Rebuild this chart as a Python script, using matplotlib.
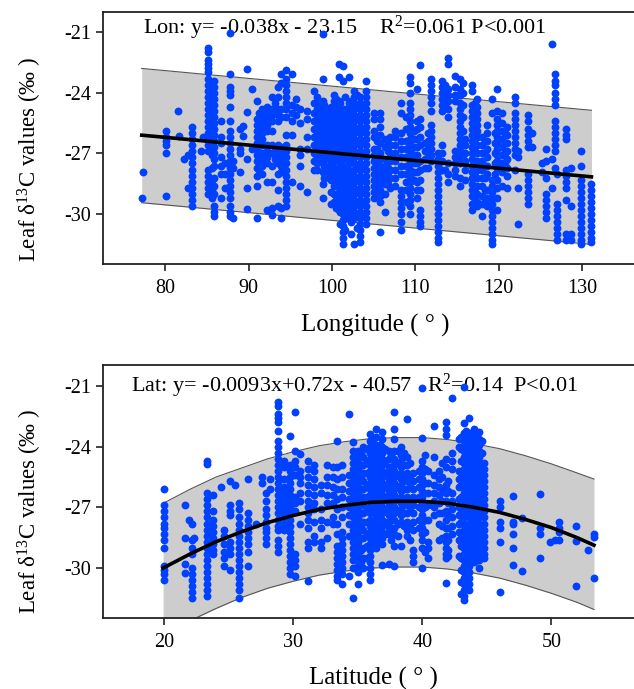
import matplotlib
matplotlib.use("Agg")
import matplotlib.pyplot as plt

plt.rcParams['font.family'] = ['Liberation Serif', 'DejaVu Serif']
plt.rcParams['mathtext.fontset'] = 'custom'
plt.rcParams['mathtext.rm'] = 'Liberation Serif'
plt.rcParams['mathtext.default'] = 'regular'

# fit line and band, longitude
lon_fit_x = [77.2, 131.1]
lon_fit_y = [-26.1, -28.16]
lon_up_y = [-22.8, -24.87]
lon_lo_y = [-29.44, -31.5]

# fit line and band, latitude
lat_fit_x = [19.9, 22, 24, 26, 28, 30, 32, 34, 36, 38, 40, 42, 44, 46, 48, 50, 52, 53.3]
lat_fit_y = [-30.0, -29.3, -28.7, -28.2, -27.75, -27.4, -27.1, -26.9, -26.75, -26.7, -26.7, -26.8, -27.0, -27.25, -27.6, -28.0, -28.5, -28.87]
lat_up_y = [-26.8, -26.1, -25.5, -25.05, -24.6, -24.25, -23.95, -23.75, -23.6, -23.55, -23.55, -23.65, -23.85, -24.1, -24.45, -24.85, -25.3, -25.6]
lat_lo_y = [-33.3, -32.6, -32.0, -31.45, -31.0, -30.65, -30.35, -30.15, -30.0, -29.95, -29.95, -30.05, -30.25, -30.5, -30.85, -31.25, -31.7, -32.05]

# longitude columns: lon_x[i] goes with all values in lon_y[i]
lon_x = [77.4, 77.2, 80.1, 81.5, 81.7, 82.3, 82.7, 83.2, 84.3, 84.6,
         85.2, 85.9, 86.7, 87.2, 87.8, 88.2, 89.0, 89.3, 89.8, 90.4,
         91.0, 91.6, 92.2, 92.8, 93.5, 93.9, 94.5, 95.2, 95.7, 96.2,
         97.0, 97.8, 98.2, 98.9, 99.6, 100.2, 100.8, 101.3, 102.0, 102.7,
         103.4, 104.1, 105.0, 105.7, 106.3, 107.0, 107.6, 108.3, 108.9, 109.3,
         110.2, 110.6, 111.2, 111.9, 112.7, 113.2, 113.9, 114.7, 115.3, 116.0,
         116.8, 117.4, 118.0, 118.6, 119.2, 119.8, 120.4, 121.0, 121.9, 122.3,
         123.5, 124.0, 125.2, 125.7, 126.4, 126.7, 127.0, 128.0, 128.6, 129.8,
         131.1]
lon_y = [
    [-27.9], [-29.2], [-25.9, -26.2, -26.4, -26.6, -27.0, -29.1], [-24.9], [-26.15], [-27.3], [-27.1, -28.7],
    [-25.7, -26.0, -26.3, -26.6, -26.9, -27.2, -27.5, -27.8, -28.1, -28.4, -28.7, -29.0, -29.3, -29.6], [-26.9], [-26.2],
    [-21.8, -22.0, -22.4, -22.6, -22.8, -23.0, -23.3, -23.6, -23.9, -24.2, -24.5, -24.8, -25.1, -25.4, -25.7, -26.0, -26.3, -26.6, -26.9, -27.8, -28.1, -28.4, -28.7, -29.0],
    [-23.4, -23.7, -24.0, -24.3, -24.6, -24.9, -25.2, -25.5, -25.8, -26.1, -26.4, -26.7, -27.0, -27.3, -27.6, -28.2, -28.6, -29.0, -29.6, -29.9, -30.1],
    [-25.4, -26.2, -26.5, -27.2, -27.6, -28.0, -29.2], [-27.5, -28.0, -28.7],
    [-21.05, -23.1, -23.7, -23.9, -24.1, -24.7, -25.4, -25.9, -26.2, -26.5, -26.8, -27.1, -27.4, -27.7, -28.0, -28.3, -28.6, -28.9, -29.2, -29.6, -29.9, -30.1],
    [-27.4, -27.7, -30.2], [-25.8, -26.8, -27.0, -27.9], [-25.65, -26.15], [-22.85, -24.95, -27.3, -28.7, -29.75], [-23.8, -26.8],
    [-24.4, -25.3, -25.6, -25.9, -26.2, -26.5, -26.8, -27.1, -27.4, -27.7, -28.1, -28.6, -30.2],
    [-24.8, -25.1, -25.4, -25.7, -26.0, -26.3, -26.6, -27.0, -27.3, -27.6, -28.0],
    [-24.7, -25.0, -25.3, -25.6, -25.9, -26.6, -26.9, -27.2, -27.5, -28.4, -29.8],
    [-24.2, -24.8, -25.1, -25.4, -25.9, -26.6, -27.0, -27.6, -28.4, -29.7, -30.05],
    [-23.7, -24.2, -24.8, -25.1, -25.4, -26.6, -26.9, -27.2, -27.5, -28.0, -28.8, -29.6],
    [-23.1, -23.5, -24.8, -25.2, -26.7, -27.0, -27.3, -27.6, -27.9, -29.7, -30.2],
    [-22.9, -23.3, -23.6, -23.9, -24.2, -24.5, -24.8, -25.2, -26.1, -26.6, -26.9, -27.2, -27.5, -27.8, -28.1, -28.4, -28.7, -29.0, -29.3, -29.6],
    [-23.1, -24.6, -25.0, -25.4, -26.1, -28.4], [-24.3, -24.7, -25.1], [-24.8, -25.5, -26.8, -27.1, -27.6, -28.6],
    [-24.9, -25.3, -26.2, -26.8, -28.9], [-23.9, -24.5, -25.0, -25.4, -25.8, -26.2, -26.6, -27.0, -27.4, -27.8],
    [-24.2, -24.5, -24.8, -25.1, -25.4, -25.7, -26.0, -26.3, -26.6, -26.9, -27.2, -27.5, -27.8],
    [-21.1, -23.3, -24.4, -24.7, -25.0, -25.3, -25.6, -25.9, -26.2, -26.5, -26.8, -27.1, -27.4, -27.9, -28.5, -29.2],
    [-24.9, -25.2, -25.5, -25.8, -26.1, -26.4, -26.7, -27.0, -27.3, -27.6, -27.9, -28.2],
    [-24.1, -24.4, -24.7, -25.0, -25.3, -25.6, -25.9, -26.2, -26.5, -26.8, -27.1, -27.4, -27.7, -28.0, -28.3, -28.6, -29.0, -29.4],
    [-22.6, -23.2, -24.4, -24.7, -25.0, -25.3, -25.6, -25.9, -26.2, -26.5, -26.8, -27.1, -27.4, -27.7, -28.0, -28.3, -28.6, -28.9, -29.2, -29.5, -29.8],
    [-22.7, -23.4, -24.9, -25.2, -25.5, -25.8, -26.1, -26.4, -26.7, -27.0, -27.3, -27.6, -27.9, -28.2, -28.5, -28.8, -29.1, -29.4, -29.7, -30.0, -30.3, -30.6, -30.9, -31.2, -31.5],
    [-23.2, -24.5, -24.8, -25.1, -25.4, -25.7, -26.0, -26.3, -26.6, -26.9, -27.2, -27.5, -27.8, -28.1, -28.4, -28.7, -29.0, -29.3, -29.6, -29.9, -30.2],
    [-23.9, -24.2, -24.5, -24.8, -25.1, -25.4, -25.7, -26.0, -26.3, -26.6, -26.9, -27.2, -27.5, -27.8, -28.1, -28.4, -28.7, -29.0, -29.3, -29.6, -29.9, -30.2, -31.5],
    [-24.2, -24.5, -24.8, -25.1, -25.4, -25.7, -26.0, -26.3, -26.6, -26.9, -27.2, -27.5, -27.8, -28.1, -28.4, -28.7, -29.0, -29.3, -29.6, -29.9, -30.2, -30.5, -30.8, -31.1, -31.4],
    [-23.4, -23.9, -24.2, -24.5, -24.8, -25.1, -25.4, -25.7, -26.0, -26.3, -26.6, -26.9, -27.2, -27.5, -27.8, -28.1, -28.4, -28.7, -29.0, -29.3, -29.6, -29.9, -30.2, -30.5],
    [-25.0, -25.3, -25.9, -26.2, -26.8, -27.1, -27.4, -27.7, -28.0, -28.3, -28.6, -28.9, -29.2],
    [-25.0, -25.3, -25.7, -26.1, -26.5, -27.0, -27.3, -27.6, -27.9, -28.2, -28.5, -28.8, -29.1, -29.4, -30.9],
    [-26.3, -26.7, -27.3, -27.6, -27.9, -28.2, -28.5, -29.0, -29.9], [-26.2, -26.6, -27.0, -27.4, -27.8, -28.2, -28.7],
    [-25.9, -26.2, -26.6, -27.0, -27.4, -27.8, -28.2, -28.6], [-24.5, -25.0, -26.0, -26.4, -26.8, -27.2, -27.6, -28.0, -28.8, -29.1, -29.4, -29.7, -30.0, -30.4, -30.8],
    [-25.2, -25.8, -26.4, -26.8, -27.2, -27.6, -28.0, -28.4, -28.8, -29.4],
    [-23.2, -23.5, -24.0, -24.5, -24.8, -25.1, -25.4, -25.7, -26.0, -26.3, -26.6, -26.9, -27.2, -27.5, -27.8, -28.1, -28.4, -28.7, -29.0, -29.3, -29.6, -30.0],
    [-23.8, -25.4, -25.8, -26.3, -26.7, -27.1, -27.5, -27.9, -28.4, -28.8, -29.2], [-22.65, -25.3, -25.7, -26.2, -26.6, -27.4, -27.8, -28.3, -28.8, -29.8, -30.1, -30.4, -30.6],
    [-26.5, -26.9, -27.3, -27.7], [-23.3, -23.6, -23.9, -24.2, -24.5, -24.9, -25.6, -25.9, -26.2, -26.5, -26.8, -27.1, -27.4],
    [-27.0, -27.3, -27.6, -27.9, -28.2, -28.5, -28.8, -29.1, -29.4, -29.7, -30.0, -30.3, -30.6, -30.9, -31.2, -31.4],
    [-23.4, -23.7, -24.0, -24.3, -24.6, -24.9, -26.6, -27.0, -27.4, -27.8],
    [-22.3, -22.6, -23.8, -24.1, -24.4, -24.8, -25.2, -27.5, -28.0, -28.4],
    [-23.15, -23.7, -24.1, -24.4, -26.9, -27.2, -27.5, -27.8, -28.1],
    [-23.3, -23.8, -24.1, -24.5, -24.8, -25.1, -25.4, -25.7, -26.0, -26.3, -26.6, -26.9, -27.2, -27.5, -28.2, -28.6],
    [-26.3, -26.6, -27.0, -27.4, -27.8, -28.3],
    [-23.6, -23.9, -24.6, -24.9, -25.2, -25.5, -25.8, -26.1, -26.4, -26.7, -27.0, -27.3, -27.6, -27.9, -28.2, -28.5, -28.8, -29.1, -29.5, -29.8],
    [-24.3, -24.7, -25.0, -25.3, -25.6, -25.9, -26.2, -26.6, -27.0, -27.4, -27.8, -28.2, -28.6, -29.0, -29.4, -29.6],
    [-26.2, -26.6, -27.0, -27.4, -27.8, -28.2, -28.6, -29.1, -29.5, -30.1], [-25.6, -26.0, -26.4, -26.8, -27.2, -27.6, -28.0, -28.8, -29.2, -29.6],
    [-24.3, -25.0, -28.3, -28.6, -28.9, -29.2, -29.5, -29.8, -30.1, -30.4, -30.7, -31.0, -31.3, -31.5],
    [-23.8, -24.9, -25.3, -25.6, -25.9, -26.2, -26.5, -26.8, -27.1, -27.4, -27.7, -28.3, -28.7, -29.2, -29.8],
    [-25.0, -25.5, -25.9, -26.3, -26.7, -27.1, -27.5, -27.9, -28.6], [-25.7, -26.1, -26.5, -26.9, -27.3, -27.7, -28.1, -28.7],
    [-24.2, -24.5, -25.0, -25.3, -25.6, -25.9, -26.2, -26.5, -26.8, -27.1, -27.8],
    [-26.9, -27.2, -28.7, -30.5], [-25.1, -25.4, -25.8, -26.1, -26.4, -26.7, -28.0, -28.3, -28.6, -28.9, -29.2, -29.5],
    [-26.0, -26.7], [-27.5, -27.9], [-26.8, -27.4, -28.2, -29.0, -29.3, -29.6, -29.9, -30.2],
    [-21.6, -27.3, -28.7], [-23.1, -23.4, -23.6, -24.0, -24.3, -24.6, -25.4, -25.7, -26.0, -26.3, -26.6, -26.9, -27.7],
    [-28.0, -29.5, -29.8, -30.1, -30.4, -30.7, -31.0, -31.3],
    [-25.8, -26.1, -26.3, -27.8, -28.1, -28.4, -28.7, -29.3, -31.0, -31.3], [-27.7, -29.6, -31.0, -31.3],
    [-26.9, -27.6, -28.3, -28.6, -28.9, -29.2, -29.5, -29.8, -30.1, -30.4, -30.7, -31.0, -31.3, -31.5],
    [-28.5, -28.8, -29.1, -29.4, -29.7, -30.0, -30.3, -30.6, -30.9, -31.2, -31.4],
]

# points between the columns in the densest part of the longitude panel
lon_fill_x = [99.0, 99.9, 100.5, 101.0, 101.6, 102.3, 103.0, 103.7, 85.6, 91.3, 93.2, 113.6, 115.7, 117.1, 118.3,
              105.4, 106.7, 109.8, 111.5, 119.5, 120.7]
lon_fill_y = [
    [-24.6, -25.2, -25.8, -26.4, -27.0, -27.6, -28.2],
    [-24.7, -25.3, -25.9, -26.5, -27.1, -27.7, -28.3, -28.9, -29.5],
    [-24.3, -24.9, -25.5, -26.1, -26.7, -27.3, -27.9, -28.5, -29.1, -29.7],
    [-24.5, -25.1, -25.7, -26.3, -26.9, -27.5, -28.1, -28.7, -29.3, -29.9, -30.5],
    [-24.2, -24.8, -25.4, -26.0, -26.6, -27.2, -27.8, -28.4, -29.0, -29.6, -30.2, -30.8],
    [-24.4, -25.0, -25.6, -26.2, -26.8, -27.4, -28.0, -28.6, -29.2, -29.8, -30.4, -31.0],
    [-24.1, -24.7, -25.3, -25.9, -26.5, -27.1, -27.7, -28.3, -28.9, -29.5, -30.1, -30.7],
    [-24.6, -25.2, -25.8, -26.4, -27.0, -27.6, -28.2, -28.8, -29.4, -30.0],
    [-23.5, -24.1, -24.7, -25.3, -25.9, -26.5, -27.1, -27.7, -28.3, -28.8, -29.2],
    [-25.0, -25.5, -26.0, -26.6, -27.2, -27.8],
    [-24.5, -25.0, -26.7, -27.3],
    [-23.6, -24.0, -24.6, -27.8], [-23.5, -24.0, -24.6, -25.2, -25.9, -26.6, -27.3],
    [-24.5, -25.1, -25.7, -26.3, -26.9, -27.5, -28.1, -28.7, -29.3],
    [-26.4, -27.0, -27.6, -28.2, -28.8, -29.4],
    [-26.4, -26.8, -27.2, -27.6, -28.0, -28.4, -28.8],
    [-26.5, -26.9, -27.3, -27.7, -28.1, -28.5],
    [-25.9, -26.3, -26.7, -27.1, -27.5, -27.9, -28.3],
    [-26.0, -26.4, -26.8, -27.2, -27.7],
    [-26.0, -26.5, -27.0, -27.5, -28.0],
    [-26.0, -26.5, -27.0, -27.5],
]

# latitude columns: lat_x[i] goes with all values in lat_y[i]
lat_x = [20.0, 21.6, 21.9, 22.1, 22.3, 23.3, 23.8, 24.4, 24.6, 25.1,
         25.5, 25.8, 26.5, 27.1, 27.6, 27.9, 28.2, 28.8, 29.3, 29.7,
         30.1, 30.5, 31.1, 31.6, 32.1, 32.6, 33.1, 33.4, 33.8, 34.3,
         34.6, 35.0, 35.4, 35.9, 36.4, 36.9, 37.4, 37.8, 38.3, 38.8,
         39.3, 39.7, 40.0, 40.4, 40.9, 41.3, 41.8, 42.3, 42.8, 43.2,
         43.6, 44.0, 44.4, 44.8, 46.0, 47.0, 47.7, 49.1, 49.9, 50.3,
         50.6, 51.9, 52.8, 53.3]
lat_y = [
    [-26.1, -26.9, -27.2, -27.5, -27.8, -28.0, -28.3, -28.6, -29.0, -29.9, -30.1, -30.3, -30.6],
    [-26.9, -28.5, -29.8, -30.25], [-27.6], [-27.8, -28.6, -29.0, -29.3, -30.0, -30.3, -30.6, -30.9, -31.2, -31.5], [-28.5],
    [-24.7, -24.85, -26.3, -26.6, -26.9, -27.2, -27.5, -27.8, -28.1, -28.4, -28.7, -29.0, -29.3, -29.6, -29.9, -30.2, -30.5, -30.8, -31.1, -31.4],
    [-26.4, -27.2, -27.6, -27.9, -28.2, -28.5, -28.8, -29.1, -29.3], [-26.0], [-28.1, -28.4, -28.8, -29.2, -29.5, -29.9],
    [-25.7, -26.9, -27.2, -27.4, -28.7, -29.0, -29.3, -30.1], [-25.9],
    [-26.8, -27.1, -27.5, -27.8, -28.1, -28.4, -28.7, -29.0, -29.3, -29.6, -29.9, -30.2, -30.5, -30.8, -31.1, -31.5],
    [-25.6, -27.3, -27.6, -27.9, -28.2, -28.5, -28.8, -29.2, -29.9], [-27.8], [-25.5, -25.8],
    [-26.3, -26.7, -27.1, -27.4, -27.7, -28.0, -28.2, -28.8, -28.5], [-25.6, -26.1],
    [-21.8, -22.0, -22.4, -22.6, -22.8, -23.2, -23.7, -24.0, -24.3, -24.6, -24.9, -25.2, -25.5, -25.8, -26.1, -26.4, -26.7, -27.0, -27.3, -27.6, -27.9, -28.1, -28.6, -28.9, -29.2],
    [-24.7, -25.0, -25.6, -26.0, -26.3, -26.6, -26.9, -27.2, -27.5, -27.8, -28.1],
    [-23.45, -24.9, -25.2, -25.5, -25.8, -26.1, -26.4, -26.7, -27.0, -27.3, -27.6, -27.9, -28.2, -28.5, -28.8, -29.1, -29.4, -29.7, -30.0, -30.3],
    [-22.3, -24.2, -24.7, -25.0, -25.4, -26.5, -26.8, -27.2, -29.3, -29.6, -29.9, -30.4],
    [-24.35, -25.2, -25.5, -25.8, -26.3, -26.7, -27.8], [-24.7, -25.1, -25.5, -25.9, -26.3, -26.7, -27.0, -27.3, -27.6, -28.0, -28.7, -29.0, -30.65],
    [-24.9, -25.2, -25.6, -26.0, -26.4, -26.8, -27.1, -27.7, -28.4, -28.7], [-25.9, -26.3, -27.1, -27.6, -28.0, -28.7, -29.0],
    [-24.9, -25.5, -25.9, -26.4, -26.8, -27.7, -28.5], [-25.0, -25.5, -26.0, -26.4, -26.8, -27.5, -27.8],
    [-23.7, -25.0, -25.6, -26.1, -26.6, -27.1, -27.8, -28.3, -28.9, -29.2, -29.5, -29.8, -30.1, -30.4, -30.6],
    [-24.9, -25.5, -26.1, -26.5, -27.0, -27.5, -28.2, -28.5, -28.8, -29.1, -29.4, -29.7, -30.0, -30.3, -30.8],
    [-22.4, -25.4, -25.8, -26.2, -26.6, -27.0, -27.4, -27.8, -28.4, -30.4],
    [-23.75, -24.2, -24.5, -24.8, -25.1, -25.4, -25.7, -26.0, -26.3, -26.6, -26.9, -27.2, -27.5, -27.8, -28.1, -28.4, -28.7, -29.0, -29.3, -29.6, -30.0, -31.5],
    [-24.2, -24.5, -24.8, -25.1, -25.4, -25.7, -26.0, -26.3, -26.6, -26.9, -27.2, -27.5, -27.8, -28.1, -28.4, -28.7, -29.0, -29.3, -29.6, -29.9, -30.2, -30.8],
    [-24.0, -24.5, -24.9, -25.3, -25.7, -26.1, -26.5, -26.9, -27.3, -27.7, -28.1, -28.5, -29.0, -29.5, -30.0],
    [-23.35, -23.7, -24.0, -24.3, -24.6, -24.9, -25.2, -25.5, -25.8, -26.1, -26.4, -26.7, -27.0, -27.3, -27.6, -27.9, -28.2, -28.5, -28.8, -29.1, -29.4, -29.7, -30.0, -30.3, -30.6],
    [-23.1, -23.5, -23.9, -24.2, -24.5, -24.8, -25.1, -25.4, -25.7, -26.0, -26.3, -26.6, -26.9, -27.2, -27.5, -27.8, -28.1, -28.4, -28.7, -29.0],
    [-23.25, -23.6, -24.0, -24.3, -24.6, -24.9, -25.2, -25.5, -25.8, -26.1, -26.4, -26.7, -27.0, -27.3, -27.6, -27.9, -28.2, -28.5, -28.8, -29.85],
    [-24.2, -24.6, -25.0, -25.3, -25.6, -25.9, -26.2, -26.5, -26.8, -27.1, -27.4, -27.7, -28.0, -28.3, -29.8],
    [-22.27, -23.1, -23.6, -24.2, -24.6, -24.9, -25.2, -25.5, -25.8, -26.1, -26.4, -26.7, -27.0, -27.3, -27.6, -28.0, -28.3, -28.9, -29.9],
    [-24.0, -24.4, -24.7, -25.0, -25.3, -25.6, -25.9, -26.2, -26.5, -26.8, -27.1, -27.4, -27.7, -28.9],
    [-22.65, -24.5, -24.9, -25.3, -25.7, -26.1, -26.5, -26.9, -27.3, -27.7, -28.1, -28.4],
    [-25.3, -25.7, -26.1, -26.5, -26.9, -27.3, -27.7, -28.1, -29.1, -29.4, -29.7],
    [-25.2, -25.6, -26.0, -26.5, -27.0, -27.6, -28.0], [-21.1, -23.55, -24.7, -25.0, -25.3, -25.6, -25.9, -26.2, -26.5, -26.8, -27.1, -27.4, -27.7, -28.0, -28.3, -28.6, -29.0, -30.0],
    [-25.2, -25.8, -26.3, -26.9, -27.6, -28.7, -29.0, -29.5], [-23.0, -24.5, -25.4, -25.9, -26.3, -26.7, -27.0, -27.4],
    [-25.2, -25.6, -26.0, -26.4, -26.8, -27.3, -27.8, -28.6], [-22.8, -23.1, -23.4, -24.6, -25.0, -25.9, -26.3, -26.7, -27.2, -27.6, -28.0, -28.4, -28.7, -29.0, -29.3, -29.5, -30.75],
    [-21.6, -24.3, -24.7, -25.1, -26.3, -26.7, -27.1, -27.5, -27.9, -28.3],
    [-23.6, -24.0, -25.2, -25.6, -26.0, -26.6, -27.0, -27.4, -27.8, -28.2, -28.6, -29.4],
    [-21.05, -22.85, -23.3, -23.6, -23.9, -24.2, -24.5, -24.8, -25.1, -25.4, -25.7, -26.0, -26.3, -26.6, -26.9, -27.2, -27.5, -27.8, -28.1, -28.4, -28.7, -29.0, -29.3, -29.6, -29.9, -30.2, -30.5, -30.8, -31.1, -31.4, -31.6],
    [-22.6, -23.3, -23.6, -23.9, -24.2, -24.5, -24.8, -25.1, -25.4, -25.7, -26.0, -26.3, -26.6, -26.9, -27.2, -27.5, -27.8, -28.1, -28.4, -28.7, -29.0, -29.3, -29.6, -29.9, -30.2, -30.5, -30.8, -31.1],
    [-23.1, -23.4, -23.7, -24.0, -24.3, -24.6, -24.9, -25.2, -25.5, -25.8, -26.1, -26.4, -26.7, -27.0, -27.3, -27.6, -27.9, -28.2, -28.5, -28.8, -29.1, -29.4, -29.7],
    [-23.25, -23.6, -23.9, -24.2, -24.5, -24.8, -25.1, -25.4, -25.7, -26.0, -26.3, -26.6, -26.9, -27.2, -27.5, -27.8, -28.1, -28.4, -28.7, -29.0, -29.3, -29.6, -30.0],
    [-24.8, -25.1, -25.4, -25.7, -26.0, -26.3, -26.6, -26.9, -27.2, -27.5, -27.8, -28.1, -28.4, -28.7, -29.0, -29.3, -29.5],
    [-26.7, -27.0, -27.7, -28.0, -28.7, -31.2], [-26.45, -27.7, -27.8, -28.3, -29.0, -29.85], [-27.55, -30.15],
    [-26.35, -28.0, -28.3, -29.5], [-28.7], [-28.6], [-27.7, -28.0, -28.2, -28.6], [-27.9, -28.65, -30.9], [-29.1],
    [-28.3, -28.45, -30.5],
]

# points between the columns in the densest part of the latitude panel
lat_fill_x = [34.9, 35.2, 35.7, 36.2, 36.7, 37.1, 37.6, 38.1, 38.6, 39.0, 40.2, 41.5, 42.0, 43.0, 43.4, 43.8, 44.2, 44.6]
lat_fill_y = [
    [-24.6, -25.2, -25.8, -26.4, -27.0, -27.6, -28.2, -28.8],
    [-24.3, -24.9, -25.5, -26.1, -26.7, -27.3, -27.9, -28.5, -29.1, -29.7],
    [-24.1, -24.7, -25.3, -25.9, -26.5, -27.1, -27.7, -28.3, -28.9, -29.5],
    [-23.6, -24.2, -24.8, -25.4, -26.0, -26.6, -27.2, -27.8, -28.4],
    [-23.9, -24.5, -25.1, -25.7, -26.3, -26.9, -27.5, -28.1, -28.7],
    [-24.1, -24.7, -25.3, -25.9, -26.5, -27.1, -27.7, -28.3],
    [-24.4, -25.0, -25.6, -26.2, -26.8, -27.4, -28.0, -28.6],
    [-24.2, -24.8, -25.4, -26.0, -26.6, -27.2, -27.8, -28.4],
    [-24.3, -24.9, -25.5, -26.1, -26.7, -27.3, -27.9],
    [-24.8, -25.4, -26.0, -26.6, -27.2, -27.8, -28.6],
    [-24.4, -25.1, -25.8, -27.0, -27.6, -28.2, -29.2],
    [-24.8, -25.5, -26.1, -26.7, -27.3, -27.9, -28.5],
    [-25.7, -26.2, -26.8, -27.4, -28.0, -28.6, -29.1, -29.4],
    [-23.5, -24.1, -24.7, -25.3, -25.9, -26.5, -27.1, -27.7, -28.3, -28.9, -29.5, -30.1, -30.7, -31.3],
    [-23.2, -23.8, -24.4, -25.0, -25.6, -26.2, -26.8, -27.4, -28.0, -28.6, -29.2, -29.8, -30.4, -31.0],
    [-23.5, -24.1, -24.7, -25.3, -25.9, -26.5, -27.1, -27.7, -28.3, -28.9, -29.5],
    [-23.6, -24.2, -24.8, -25.4, -26.0, -26.6, -27.2, -27.8, -28.4, -29.0, -29.6],
    [-23.7, -24.3, -24.9, -25.5, -26.1, -26.7, -27.3, -27.9, -28.5, -29.1],
]


def draw_panel(ax, fit_x, fit_y, up_y, lo_y, col_sets):
    ax.fill_between(fit_x, lo_y, up_y, color='#cdcdcd', lw=0, zorder=1)
    ax.plot(fit_x, up_y, color='#555555', lw=0.8, zorder=1.5)
    ax.plot(fit_x, lo_y, color='#555555', lw=0.8, zorder=1.5)
    for xs, ys in col_sets:
        for x, col in zip(xs, ys):
            ax.scatter([x] * len(col), col, s=32, color='#0041ff', lw=0, zorder=3)
    ax.plot(fit_x, fit_y, color='black', lw=2.6, zorder=4)
    ax.set_yticks([-21, -24, -27, -30])
    ax.set_yticklabels(['-21', '-24', '-27', '-30'])
    ax.tick_params(labelsize=14.5, length=5, width=1.2, color='#222222', pad=3)
    ax.tick_params(axis='x', pad=6)
    ax.spines['right'].set_visible(False)
    for name in ['left', 'top', 'bottom']:
        ax.spines[name].set_linewidth(1.3)
        ax.spines[name].set_color('#222222')
    ax.set_ylabel('Leaf δ$^{13}$C values (‰ )', fontsize=16.5)


fig = plt.figure(figsize=(6.34, 6.89), dpi=100)

# top panel
ax1 = fig.add_axes([102.5 / 634, 1 - 264 / 689, 531.5 / 634, 252 / 689])
draw_panel(ax1, lon_fit_x, lon_fit_y, lon_up_y, lon_lo_y, [(lon_x, lon_y), (lon_fill_x, lon_fill_y)])
ax1.set_xlim(72.5, 136.2)
ax1.set_ylim(-32.47, -20.01)
ax1.set_xticks([80, 90, 100, 110, 120, 130])
ax1.set_xlabel('Longitude ( ° )', fontsize=18, va='center')
ax1.xaxis.set_label_coords(0.513, -0.242)
ax1.yaxis.set_label_coords(-0.11, 0.413)
ax1.text(77.4, -20.8, 'Lon: y= -0.038x - 23.15    R$^{2}$=0.061 P<0.001', fontsize=16, va='center', zorder=2.5)

# bottom panel
ax2 = fig.add_axes([102.5 / 634, 1 - 618 / 689, 531.5 / 634, 253 / 689])
draw_panel(ax2, lat_fit_x, lat_fit_y, lat_up_y, lat_lo_y, [(lat_x, lat_y), (lat_fill_x, lat_fill_y)])
ax2.set_xlim(15.2, 56.4)
ax2.set_ylim(-32.47, -19.96)
ax2.set_xticks([20, 30, 40, 50])
ax2.set_xlabel('Latitude ( ° )', fontsize=18, va='center')
ax2.xaxis.set_label_coords(0.51, -0.237)
ax2.yaxis.set_label_coords(-0.11, 0.423)
ax2.text(17.4, -21, 'Lat: y= -0.0093x+0.72x - 40.57   R$^{2}$=0.14  P<0.01', fontsize=16, va='center', zorder=2.5)

fig.savefig('out.png', dpi=100)
